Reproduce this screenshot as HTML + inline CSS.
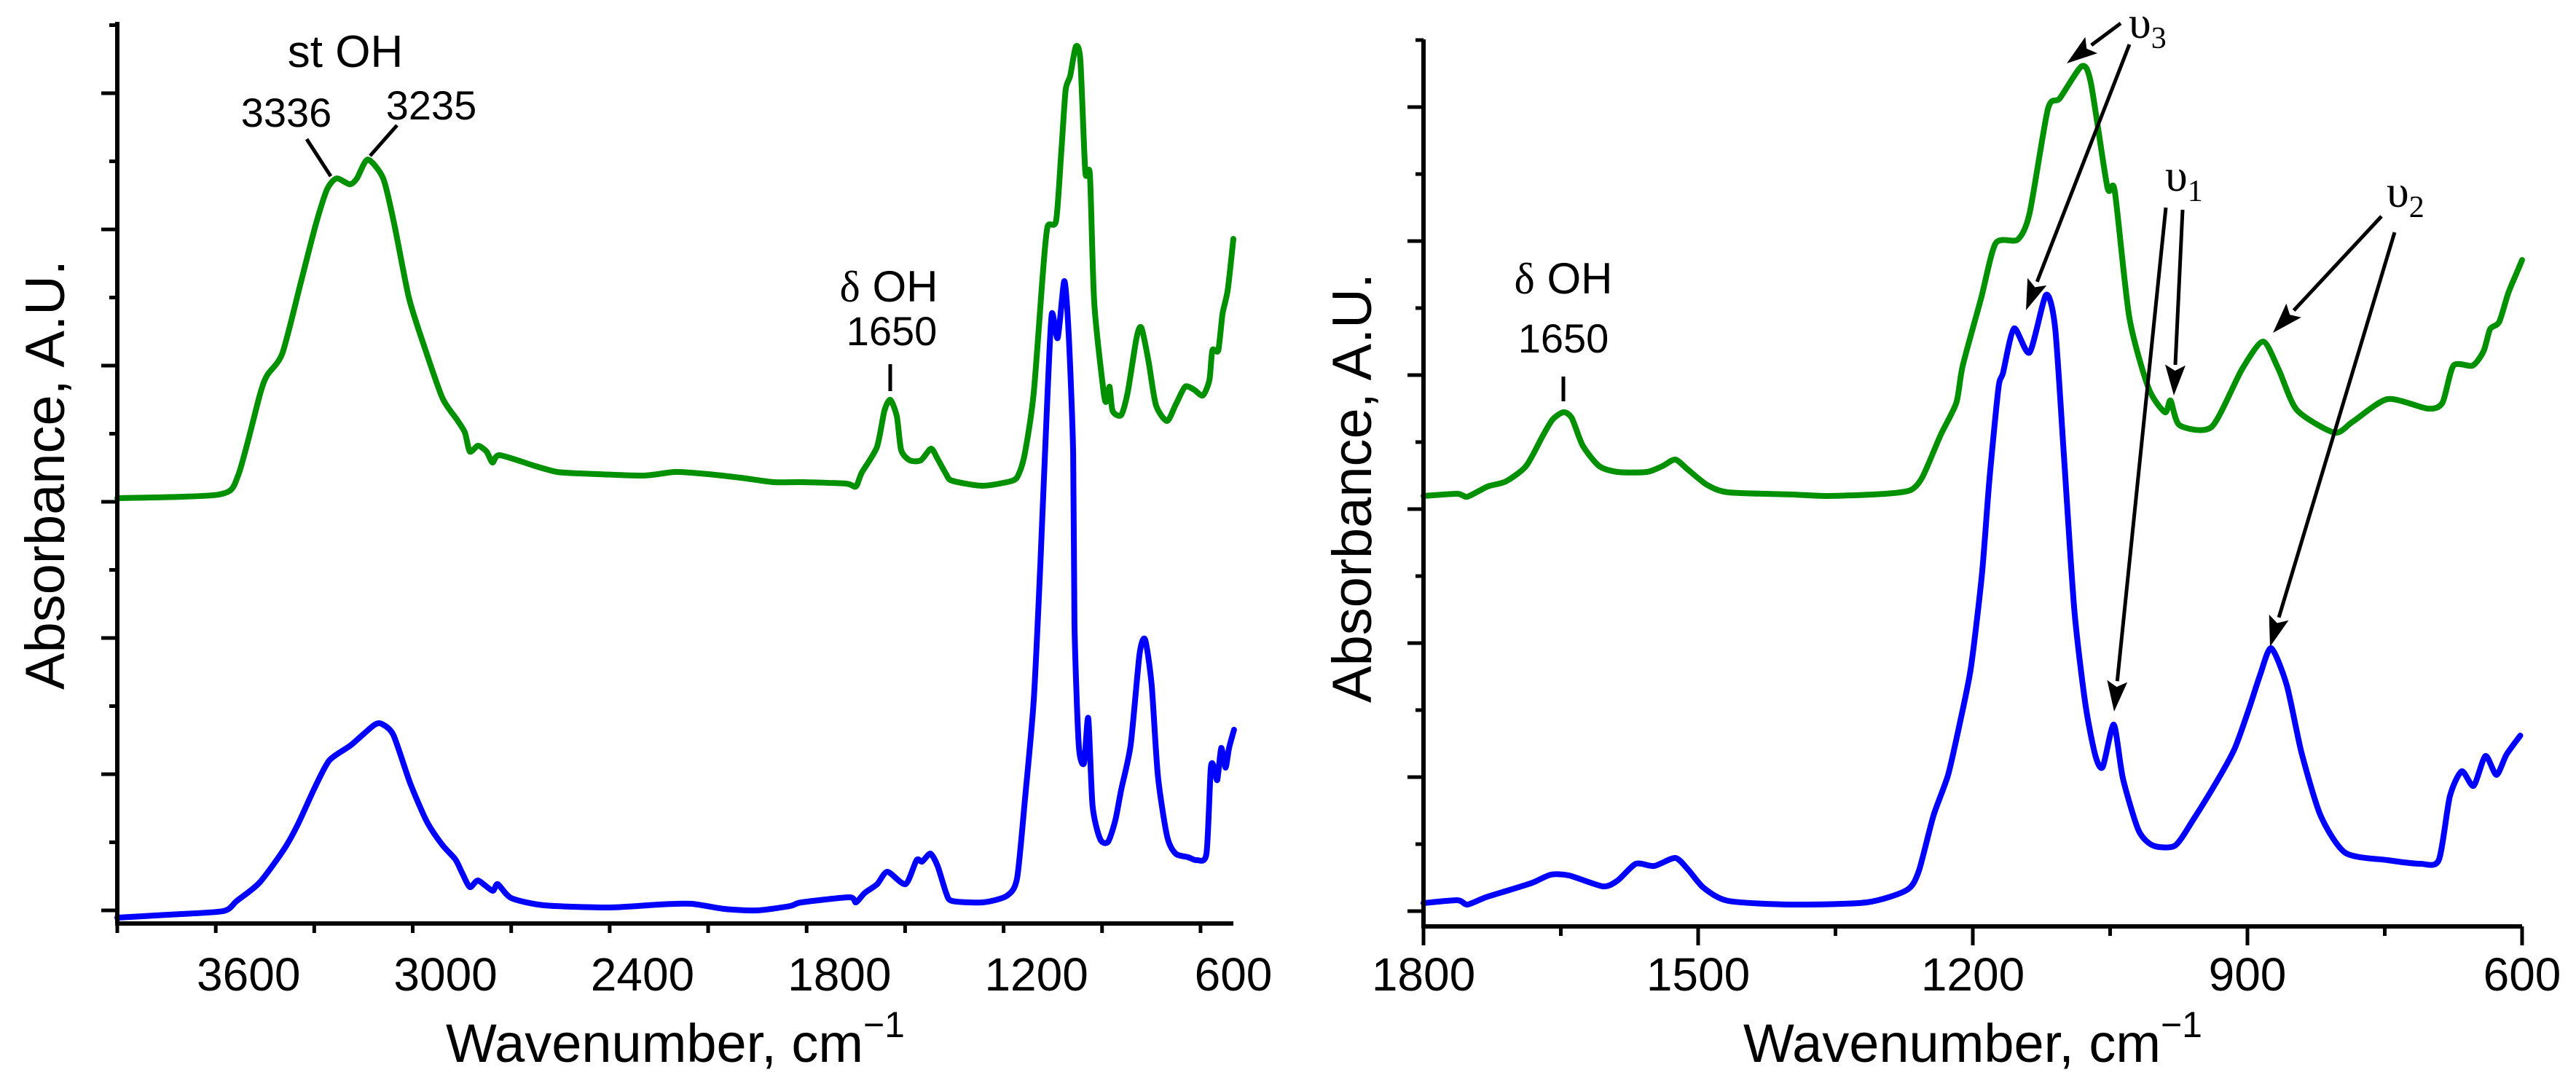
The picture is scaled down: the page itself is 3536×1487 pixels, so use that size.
<!DOCTYPE html>
<html><head><meta charset="utf-8"><style>
html,body{margin:0;padding:0;background:#fff;}
svg{display:block;font-family:"Liberation Sans",sans-serif;}
</style></head><body>
<svg id="chart" width="3536" height="1487" viewBox="0 0 3536 1487" xmlns="http://www.w3.org/2000/svg">
<rect width="3536" height="1487" fill="#fff"/>
<g id="left"></g>
<g id="right"></g>
</svg>
<script>
// ---- Left panel data (full range) ----
const leftGreenWn = [4000,3690,3632,3565,3543,3497,3441,3394,3361,3332,3292,3270,3237,3190,3157,3112,3066,3010,2964,2941,2926,2901,2875,2857,2835,2726,2660,2591,2400,2300,2200,2100,2000,1916,1780,1750,1732,1686,1663,1645,1625,1612,1586,1552,1521,1501,1475,1457,1364,1273,1253,1235,1208,1180,1166,1140,1124,1111,1097,1080,1066,1051,1037,1024,995,986,977,968,942,922,895,880,858,836,802,776,747,720,693,673,664,646,633,617,600];
const leftGreenAbs = [0.584,0.589,0.615,0.727,0.753,0.783,0.880,0.962,1.008,1.023,1.015,1.023,1.049,1.023,0.962,0.860,0.794,0.722,0.691,0.674,0.648,0.656,0.648,0.633,0.643,0.628,0.620,0.618,0.615,0.620,0.617,0.612,0.606,0.606,0.604,0.600,0.619,0.654,0.704,0.719,0.696,0.650,0.636,0.636,0.652,0.638,0.617,0.608,0.601,0.608,0.618,0.646,0.729,0.895,0.957,0.965,1.061,1.144,1.164,1.204,1.185,1.032,1.028,0.853,0.729,0.717,0.737,0.704,0.698,0.729,0.804,0.818,0.771,0.712,0.690,0.712,0.737,0.733,0.725,0.746,0.787,0.787,0.837,0.870,0.940];
const leftBlueWn = [4000,3847,3678,3636,3567,3492,3450,3399,3354,3288,3219,3194,3159,3108,3057,3010,2970,2950,2926,2901,2857,2841,2800,2700,2500,2350,2250,2150,2050,1950,1916,1770,1750,1723,1685,1654,1599,1565,1548,1523,1501,1475,1457,1364,1290,1259,1235,1208,1188,1166,1153,1135,1115,1102,1088,1084,1071,1055,1042,1029,1006,982,960,942,913,886,869,849,830,802,776,738,711,682,669,660,649,637,624,613,598];
const leftBlueAbs = [0.008,0.012,0.017,0.031,0.056,0.102,0.136,0.186,0.224,0.245,0.272,0.274,0.259,0.193,0.140,0.108,0.088,0.070,0.050,0.059,0.045,0.054,0.035,0.025,0.022,0.026,0.027,0.020,0.018,0.024,0.029,0.036,0.029,0.042,0.054,0.071,0.054,0.087,0.085,0.096,0.079,0.042,0.031,0.029,0.038,0.062,0.170,0.307,0.494,0.729,0.837,0.804,0.882,0.812,0.646,0.411,0.245,0.220,0.282,0.162,0.116,0.112,0.141,0.183,0.245,0.369,0.390,0.328,0.203,0.120,0.096,0.091,0.087,0.096,0.212,0.216,0.197,0.241,0.214,0.241,0.266];
const leftTickLabels = ["3600","3000","2400","1800","1200","600"];
const leftTickValues = [3600,3000,2400,1800,1200,600];

// ---- Right panel data (1800-600) ----
const rightGreenWn = [1800,1763,1752,1730,1710,1688,1670,1659,1647,1638,1626,1608,1588,1556,1539,1525,1511,1490,1467,1397,1357,1296,1268,1255,1235,1218,1211,1191,1175,1151,1138,1118,1105,1081,1071,1053,1045,1029,1008,990,984,974,939,906,883,866,846,805,785,747,703,687,675,654,642,635,625,615,605,600];
const rightGreenAbs = [0.591,0.594,0.590,0.604,0.611,0.632,0.673,0.696,0.706,0.698,0.660,0.632,0.624,0.624,0.632,0.641,0.627,0.606,0.596,0.593,0.591,0.594,0.599,0.617,0.675,0.719,0.770,0.862,0.938,0.943,0.979,1.122,1.137,1.181,1.158,1.015,1.010,0.836,0.739,0.706,0.722,0.688,0.686,0.765,0.803,0.765,0.709,0.678,0.693,0.724,0.711,0.719,0.770,0.770,0.790,0.820,0.830,0.870,0.900,0.915];
const rightBlueWn = [1800,1763,1752,1732,1706,1681,1661,1641,1604,1588,1568,1548,1525,1511,1494,1467,1397,1316,1272,1259,1243,1227,1214,1202,1190,1182,1172,1167,1155,1138,1120,1110,1100,1089,1077,1066,1058,1046,1036,1019,1003,979,959,934,914,898,886,874,857,841,820,793,747,711,691,679,666,653,640,628,617,602];
const rightBlueAbs = [0.032,0.036,0.030,0.040,0.050,0.060,0.071,0.070,0.055,0.063,0.086,0.083,0.094,0.078,0.053,0.035,0.030,0.033,0.050,0.076,0.152,0.208,0.280,0.356,0.484,0.611,0.739,0.760,0.821,0.788,0.867,0.821,0.637,0.433,0.305,0.234,0.219,0.277,0.203,0.132,0.111,0.111,0.147,0.198,0.244,0.300,0.346,0.382,0.331,0.239,0.152,0.101,0.091,0.086,0.091,0.178,0.213,0.193,0.234,0.208,0.236,0.262];
const rightTickLabels = ["1800","1500","1200","900","600"];
const rightTickValues = [1800,1500,1200,900,600];

const NS = "http://www.w3.org/2000/svg";
function mk(parent, tag, attrs, text){
  const e = document.createElementNS(NS, tag);
  for (const k in attrs) e.setAttribute(k, attrs[k]);
  if (text !== undefined) e.textContent = text;
  parent.appendChild(e);
  return e;
}
function smoothPath(P){
  let d = `M${P[0][0].toFixed(1)},${P[0][1].toFixed(1)}`;
  const t = 0.12;
  for (let i = 0; i < P.length - 1; i++){
    const p0 = P[Math.max(0,i-1)], p1 = P[i], p2 = P[i+1], p3 = P[Math.min(P.length-1,i+2)];
    const c1x = p1[0] + (p2[0]-p0[0])*t, c1y = p1[1] + (p2[1]-p0[1])*t;
    const c2x = p2[0] - (p3[0]-p1[0])*t, c2y = p2[1] - (p3[1]-p1[1])*t;
    d += ` C${c1x.toFixed(1)},${c1y.toFixed(1)} ${c2x.toFixed(1)},${c2y.toFixed(1)} ${p2[0].toFixed(1)},${p2[1].toFixed(1)}`;
  }
  return d;
}

function drawPanel(g, cfg){
  const xs = wn => cfg.x0 + (cfg.wnMax - wn) * (cfg.x1 - cfg.x0) / (cfg.wnMax - cfg.wnMin);
  const ys = v => cfg.yBottom - v * 1000;
  cfg.series.forEach(s => {
    const P = s.wn.map((w,i) => [xs(w), ys(s.abs[i])]);
    const pl = mk(g, "path", {d: smoothPath(P), fill: "none", stroke: s.color, "stroke-width": 8, "stroke-linejoin": "round", "stroke-linecap": "round"});
    
    
  });
  const ax = mk(g, "path", {d: `M${cfg.x0},${cfg.yTop} V${cfg.yBottom} H${cfg.x1}`, fill: "none", stroke: "#000", "stroke-width": 6});
  
  
  for (let k = 0; k < cfg.yTickCount; k++){
    const y = cfg.yTick0 - k * cfg.yTickStep;
    const len = (k % 2 === 0) ? 22 : 11;
    const t = mk(g, "line", {x1: cfg.x0 - len, x2: cfg.x0, y1: y, y2: y, stroke: "#000", "stroke-width": 5});
    
    
  }
  for (let w = cfg.wnMax; w >= cfg.wnMin; w -= cfg.minorStep){
    const x = xs(w);
    const major = cfg.tickValues.includes(w);
    const t = mk(g, "line", {x1: x, x2: x, y1: cfg.yBottom, y2: cfg.yBottom + (major ? 26 : 13), stroke: "#000", "stroke-width": 5});
    
    
  }
  cfg.tickValues.forEach((w,i) => {
    const t = mk(g, "text", {x: xs(w), y: 1360, "font-size": 64, "text-anchor": "middle", fill: "#000"}, cfg.tickLabels[i]);
    
    
  });
  const xt = mk(g, "text", {x: (cfg.x0 + cfg.x1) / 2, y: 1458, "font-size": 74, "text-anchor": "middle", fill: "#000"});
  
  
  mk(xt, "tspan", {}, "Wavenumber, cm");
  mk(xt, "tspan", {"font-size": 50, dy: -34}, "\u22121");
  const yt = mk(g, "text", {x: 0, y: 0, "font-size": 76, "text-anchor": "middle", fill: "#000", textLength: 590, lengthAdjust: "spacingAndGlyphs", transform: `translate(${cfg.yTitleX},${cfg.yTitleY}) rotate(-90)`}, "Absorbance, A.U.");
  
  
}

drawPanel(document.getElementById("left"), {
  x0: 161, x1: 1693, wnMax: 4000, wnMin: 600, yTop: 30, yBottom: 1268,
  yTick0: 1250, yTickStep: 93.5, yTickCount: 14, minorStep: 300,
  tickValues: leftTickValues, tickLabels: leftTickLabels, yTitleX: 88, yTitleY: 652,
  series: [{wn: leftGreenWn, abs: leftGreenAbs, color: "#009000", name: "green-spectrum-left"},
           {wn: leftBlueWn, abs: leftBlueAbs, color: "#0000ff", name: "blue-spectrum-left"}]
});
drawPanel(document.getElementById("right"), {
  x0: 1954, x1: 3462, wnMax: 1800, wnMin: 600, yTop: 54, yBottom: 1272,
  yTick0: 1251, yTickStep: 92, yTickCount: 14, minorStep: 150,
  tickValues: rightTickValues, tickLabels: rightTickLabels, yTitleX: 1882, yTitleY: 670,
  series: [{wn: rightGreenWn, abs: rightGreenAbs, color: "#009000", name: "green-spectrum-right"},
           {wn: rightBlueWn, abs: rightBlueAbs, color: "#0000ff", name: "blue-spectrum-right"}]
});

const ann = mk(document.getElementById("chart"), "g", {});


function label(x, y, size, txt, name, serif){
  const t = mk(ann, "text", {x: x, y: y, "font-size": size, "text-anchor": "middle", fill: "#000"}, txt);
  if (serif) t.setAttribute("font-family", "Liberation Serif, serif");
  
  
  return t;
}
function seg(x1,y1,x2,y2,name){
  const l = mk(ann, "line", {x1:x1,y1:y1,x2:x2,y2:y2,stroke:"#000","stroke-width":5});
  
  
}
function arrow(x1,y1,x2,y2,name){
  const dx = x2-x1, dy = y2-y1, L = Math.hypot(dx,dy), ux = dx/L, uy = dy/L;
  const hl = 42, hw = 14;
  const bx = x2 - ux*hl, by = y2 - uy*hl;
  seg(x1,y1,bx,by,name);
  const p = mk(ann, "polygon", {points: `${x2},${y2} ${bx - uy*hw},${by + ux*hw} ${bx + ux*8},${by + uy*8} ${bx + uy*hw},${by - ux*hw}`, fill: "#000"});
  
  
}
label(474, 92, 62, "st OH", "st-oh-label");
label(393, 174, 56, "3336", "peak-3336-label");
label(592, 164, 56, "3235", "peak-3235-label");
seg(421,191,454,242,"leader-3336");
seg(545,172,508,214,"leader-3235");
const d1 = label(1220, 414, 60, "", "delta-oh-label-left");
mk(d1, "tspan", {"font-family": "Liberation Serif, serif"}, "\u03B4");
mk(d1, "tspan", {}, " OH");
label(1224, 474, 56, "1650", "peak-1650-label-left");
seg(1222,500,1222,537,"leader-1650-left");
const d2 = label(2146, 403, 60, "", "delta-oh-label-right");
mk(d2, "tspan", {"font-family": "Liberation Serif, serif"}, "\u03B4");
mk(d2, "tspan", {}, " OH");
label(2146, 484, 56, "1650", "peak-1650-label-right");
seg(2146,517,2146,551,"leader-1650-right");
function nu(x, y, sub, name){
  const t = mk(ann, "text", {x: x, y: y, "font-size": 62, "font-family": "Liberation Serif, serif", fill: "#000"});
  
  
  mk(t, "tspan", {}, "\u03C5");
  mk(t, "tspan", {"font-size": 42, dy: 14}, sub);
}
nu(2922, 52, "3", "nu3-label");
nu(2972, 262, "1", "nu1-label");
nu(3276, 284, "2", "nu2-label");
arrow(2911,32,2837,87,"nu3-arrow-green");
arrow(2923,61,2781,426,"nu3-arrow-blue");
arrow(2973,285,2902,977,"nu1-arrow-blue");
arrow(2996,288,2984,543,"nu1-arrow-green");
arrow(3269,297,3120,457,"nu2-arrow-green");
arrow(3287,319,3116,888,"nu2-arrow-blue");
</script>
</body></html>
